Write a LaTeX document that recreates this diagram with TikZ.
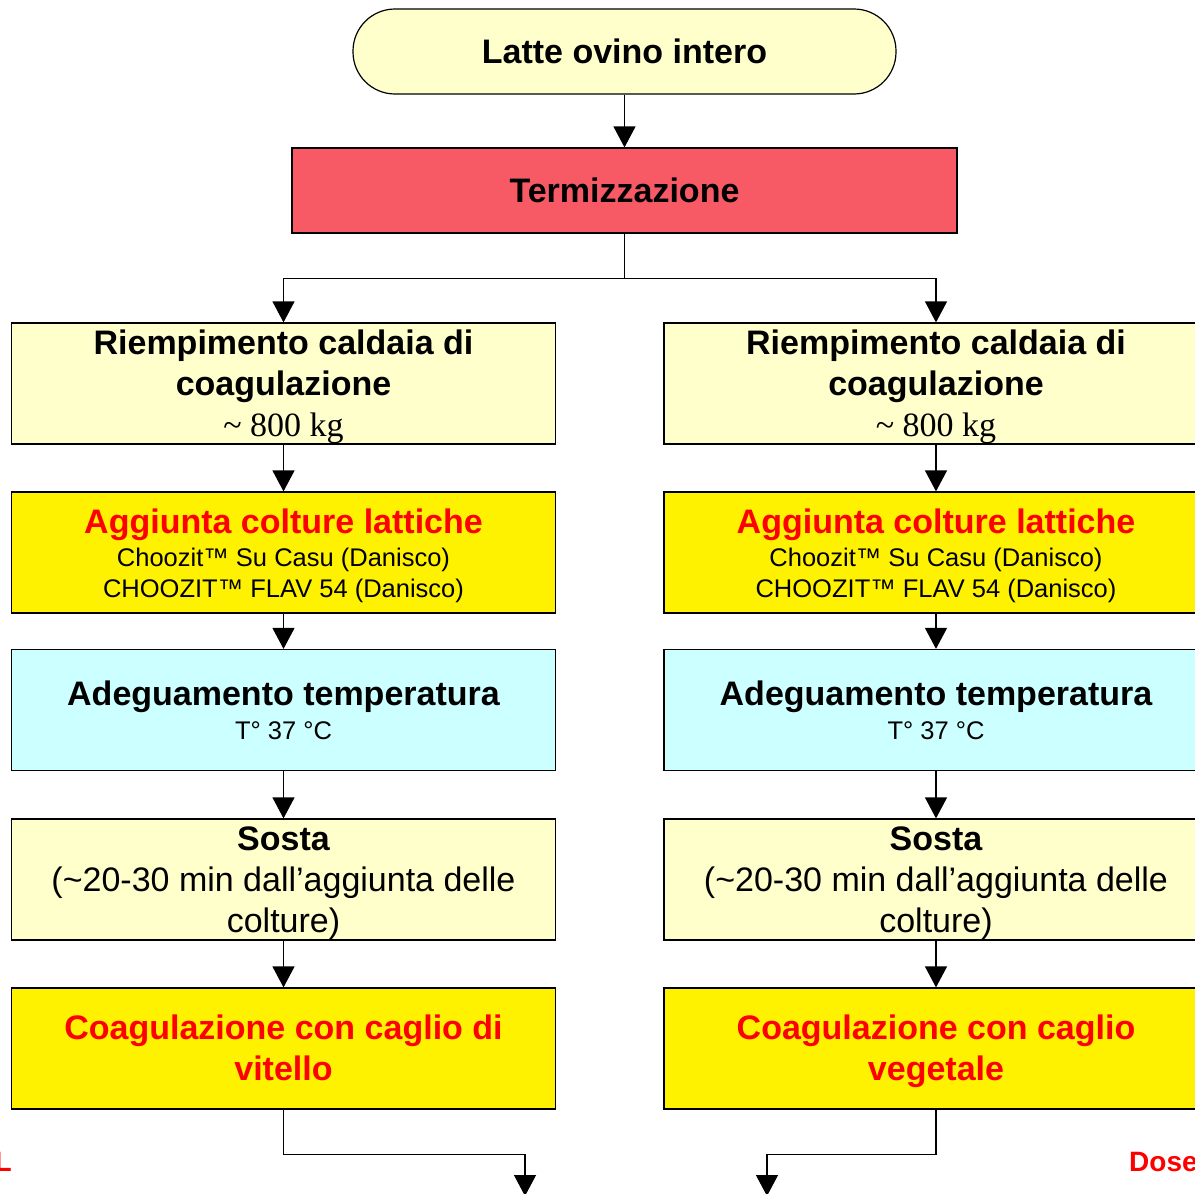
\documentclass[tikz,border=0pt]{standalone}
\usepackage{fontspec}
\setmainfont{Liberation Sans}
\newfontfamily\timesfont{Liberation Serif}
\usetikzlibrary{arrows.meta,positioning}

\definecolor{paleyellow}{RGB}{255,255,204}
\definecolor{paleblue}{RGB}{204,255,255}
\definecolor{termored}{RGB}{248,90,101}

\newcommand{\headsize}{\fontsize{34}{41}\selectfont\bfseries}
\newcommand{\notesize}{\fontsize{25.5}{31}\selectfont}
\newcommand{\plainsize}{\fontsize{34}{41}\selectfont}
\newcommand{\firstline}{\rule{0pt}{31pt}}

\begin{document}
\begin{tikzpicture}[x=1pt,y=-1pt,
    stepbox/.style={draw=black,line width=1.2pt,minimum width=544pt,minimum height=121pt,
      inner sep=0pt,text width=540pt,align=flush center},
    arr/.style={line width=1.2pt,-{Triangle[length=21pt,width=22pt]}}]
    \clip (0,0) rectangle (1195,1194);
    \fill[white] (0,0) rectangle (1195,1194);
    % inizio e termizzazione
    \node[draw=black,line width=1.2pt,fill=paleyellow,rounded corners=42pt,minimum width=543pt,
      minimum height=85pt,inner sep=0pt,font=\headsize] (latte) at (624.5,51.5) {Latte ovino intero};
    \node[draw=black,line width=1.2pt,fill=termored,minimum width=665pt,minimum height=85pt,
      inner sep=0pt,font=\headsize] (termo) at (624.5,190.5) {Termizzazione};
    % ramo sinistro
    \node[stepbox,fill=paleyellow] (riempL) at (283.5,383.5)
      {{\headsize\firstline Riempimento caldaia di\\coagulazione\par}{\timesfont\plainsize \textasciitilde{} 800 kg\par}};
    \node[stepbox,fill=yellow] (colturL) at (283.5,552.5)
      {{\headsize\color{red}\firstline Aggiunta colture lattiche\par}\vspace{2pt}{\notesize Choozit™ Su Casu (Danisco)\\CHOOZIT™ FLAV 54 (Danisco)\par}};
    \node[stepbox,fill=paleblue] (tempL) at (283.5,710)
      {{\headsize Adeguamento temperatura\par}\vspace{3pt}{\notesize T° 37 °C\par}};
    \node[stepbox,fill=paleyellow] (sostaL) at (283.5,879.5)
      {{\headsize\firstline Sosta\par}{\plainsize (\textasciitilde 20-30 min dall’aggiunta delle\\colture)\par}};
    \node[stepbox,fill=yellow] (coagL) at (283.5,1048.5)
      {{\headsize\color{red}\firstline Coagulazione con caglio di\\vitello\vphantom{g}\par}};
    % ramo destro
    \node[stepbox,fill=paleyellow] (riempR) at (936,383.5)
      {{\headsize\firstline Riempimento caldaia di\\coagulazione\par}{\timesfont\plainsize \textasciitilde{} 800 kg\par}};
    \node[stepbox,fill=yellow] (colturR) at (936,552.5)
      {{\headsize\color{red}\firstline Aggiunta colture lattiche\par}\vspace{2pt}{\notesize Choozit™ Su Casu (Danisco)\\CHOOZIT™ FLAV 54 (Danisco)\par}};
    \node[stepbox,fill=paleblue] (tempR) at (936,710)
      {{\headsize Adeguamento temperatura\par}\vspace{3pt}{\notesize T° 37 °C\par}};
    \node[stepbox,fill=paleyellow] (sostaR) at (936,879.5)
      {{\headsize\firstline Sosta\par}{\plainsize (\textasciitilde 20-30 min dall’aggiunta delle\\colture)\par}};
    \node[stepbox,fill=yellow] (coagR) at (936,1048.5)
      {{\headsize\color{red}\firstline Coagulazione con caglio\\vegetale\par}};
    % testi tagliati in basso
    \node[anchor=base east,inner sep=0pt,text=red,font=\fontsize{28}{33}\selectfont\bfseries] (noteL) at (12,1171) {L};
    \node[anchor=base west,inner sep=0pt,text=red,font=\fontsize{28}{33}\selectfont\bfseries] (noteR) at (1129,1171) {Dose};
    \coordinate (outL) at (525,1196);
    \coordinate (outR) at (767,1196);
    % frecce
    \draw[arr] (latte) -- (termo);
    \draw[arr] (termo.south) -- ++(0,45) -| (riempL);
    \draw[arr] (termo.south) -- ++(0,45) -| (riempR);
    \draw[arr] (riempL) -- (colturL);
    \draw[arr] (colturL) -- (tempL);
    \draw[arr] (tempL) -- (sostaL);
    \draw[arr] (sostaL) -- (coagL);
    \draw[arr] (riempR) -- (colturR);
    \draw[arr] (colturR) -- (tempR);
    \draw[arr] (tempR) -- (sostaR);
    \draw[arr] (sostaR) -- (coagR);
    \draw[arr] (coagL.south) -- ++(0,45) -| (outL);
    \draw[arr] (coagR.south) -- ++(0,45) -| (outR);
\end{tikzpicture}
\end{document}
